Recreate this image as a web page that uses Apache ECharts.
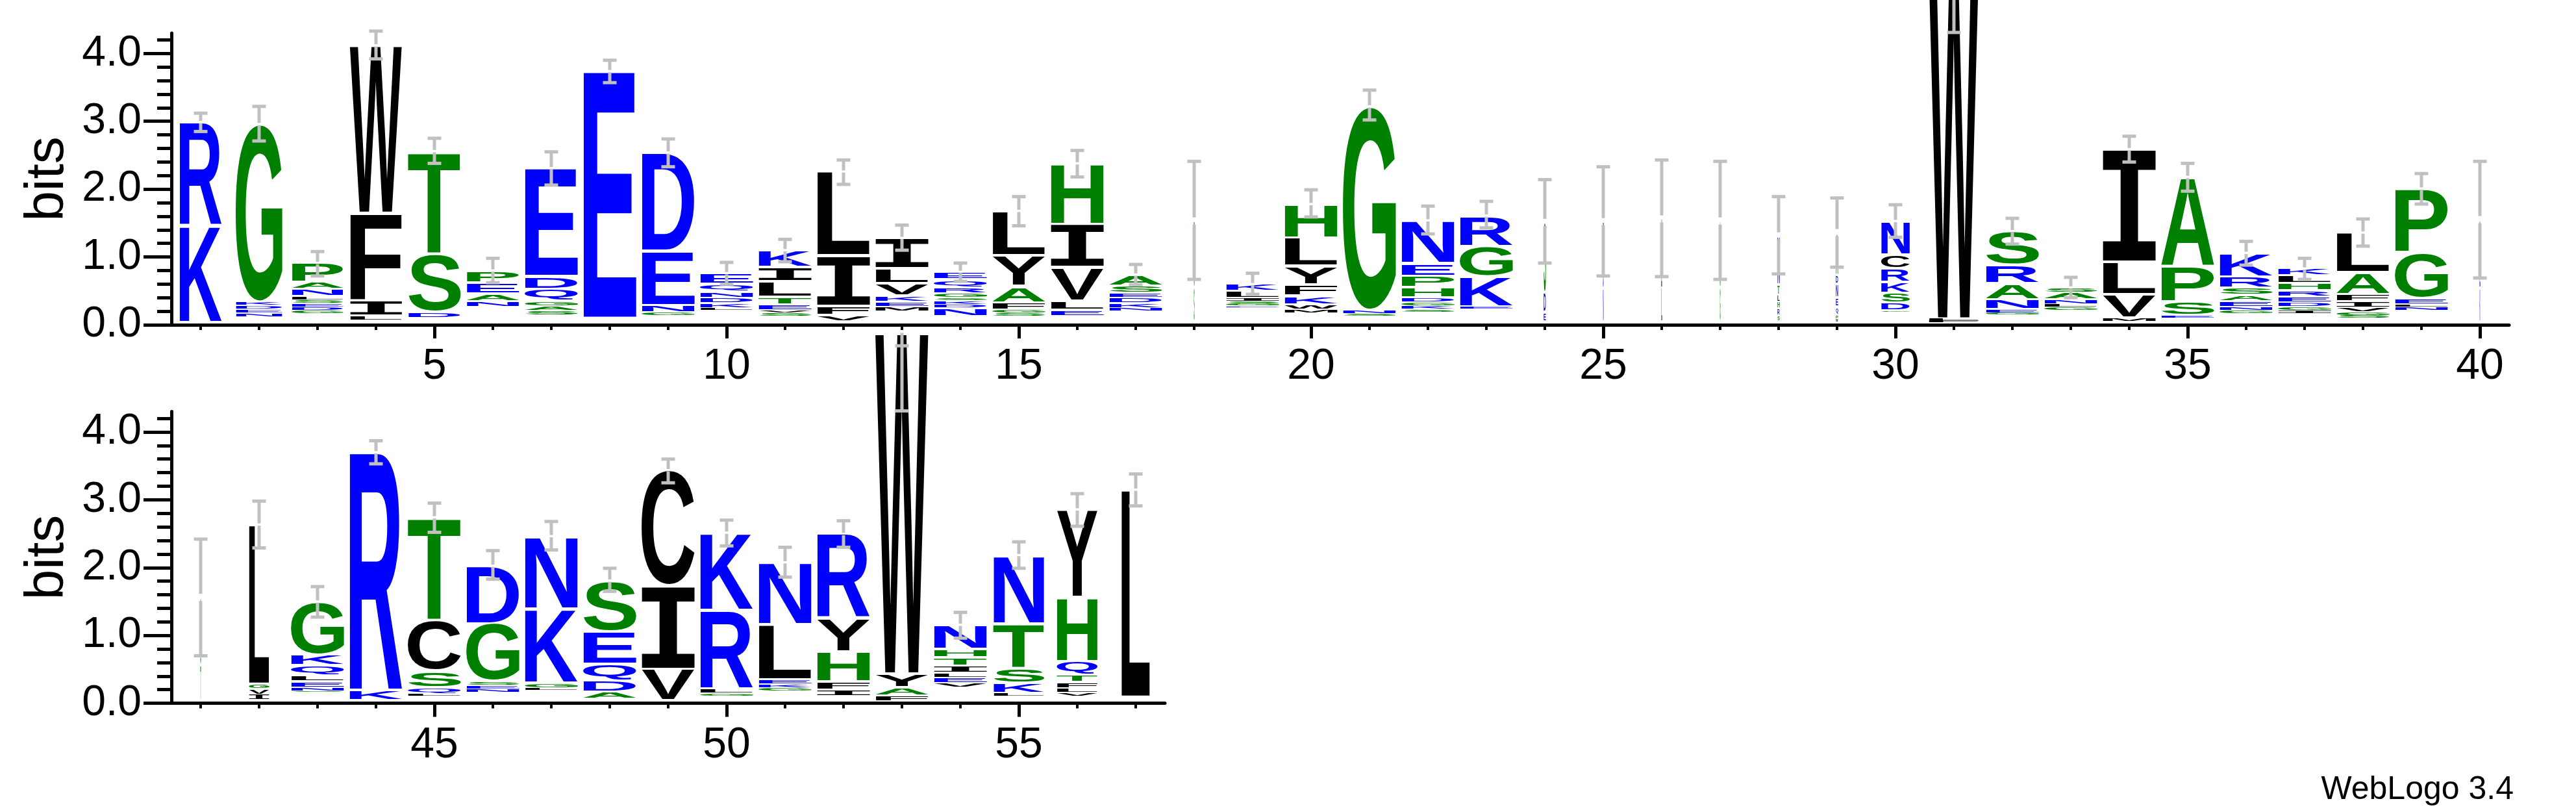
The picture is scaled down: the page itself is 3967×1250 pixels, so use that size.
<!DOCTYPE html>
<html>
<head>
<meta charset="utf-8">
<title>WebLogo</title>
<script src="https://cdn.jsdelivr.net/npm/echarts@6/dist/echarts.min.js"></script>
<style>
  html, body { margin: 0; padding: 0; background: #fff; }
  #logo { width: 3967px; height: 1250px; }
</style>
</head>
<body>
<div id="logo"></div>
<script>
// sequence positions, two rows: 1-40 and 41-57
const positions = [1, 2, 3, 4, 5, 6, 7, 8, 9, 10, 11, 12, 13, 14, 15, 16, 17, 18, 19, 20,
  21, 22, 23, 24, 25, 26, 27, 28, 29, 30, 31, 32, 33, 34, 35, 36, 37, 38, 39, 40,
  41, 42, 43, 44, 45, 46, 47, 48, 49, 50, 51, 52, 53, 54, 55, 56, 57];

// letters of each stack, bottom to top
const stackLetters = ['KR', 'NEDKG', 'GDESLNAP', 'LIFW', 'DST', 'NAEP', 'SAGQDE', 'E', 'GNED', 'LKDNQE',
  'SVETLIK', 'VFIL', 'MEKVLI', 'NDKSGRQE', 'SGFAYL', 'ELVIH', 'NKDESA', 'SGT', 'EGSILK', 'MWKFYLH',
  'SNG', 'SKGDHPEN', 'EKGR', 'EDS', 'NDE', 'LIV', 'GSA', 'SRHLTN', 'WPQENDA', 'GDSKRCN',
  'FLW', 'GENARS', 'GLNAS', 'MVLI', 'ESPA', 'GNEASRK', 'IGDERHLK', 'SGVIFAL', 'NLEGP', 'KEN',
  'TSG', 'IVGL', 'SNELQKG', 'KR', 'LQSCT', 'NESGD', 'LGKN', 'ADQES', 'VIC', 'GLRK',
  'GKELN', 'IFHYR', 'FAYW', 'VELITHN', 'LKSTN', 'VLFTQHY', 'L'];

// information (bits) of each letter, bottom to top
const stackBits = [
  [1.43, 1.52],
  [0.055, 0.055, 0.055, 0.055, 2.62],
  [0.052, 0.052, 0.052, 0.052, 0.052, 0.11, 0.10, 0.28],
  [0.06, 0.22, 1.30, 2.47],
  [0.09, 0.86, 1.51],
  [0.09, 0.11, 0.16, 0.18],
  [0.07, 0.07, 0.07, 0.18, 0.19, 1.59],
  [3.64],
  [0.06, 0.10, 0.80, 1.45],
  [0.03, 0.07, 0.08, 0.09, 0.11, 0.16],
  [0.05, 0.04, 0.08, 0.11, 0.23, 0.215, 0.245],
  [0.09, 0.14, 0.74, 1.24],
  [0.065, 0.075, 0.09, 0.18, 0.22, 0.45],
  [0.12, 0.05, 0.06, 0.04, 0.065, 0.085, 0.12, 0.11],
  [0.045, 0.045, 0.11, 0.24, 0.455, 0.654],
  [0.086, 0.14, 0.494, 0.637, 0.893],
  [0.05, 0.07, 0.08, 0.07, 0.105, 0.165],
  [0.5, 0.5, 0.48],
  [0.02, 0.03, 0.04, 0.05, 0.10, 0.10],
  [0.06, 0.07, 0.13, 0.164, 0.273, 0.413, 0.50],
  [0.04, 0.046, 3.004],
  [0.037, 0.057, 0.049, 0.072, 0.145, 0.17, 0.188, 0.632],
  [0.03, 0.446, 0.451, 0.448],
  [0.14, 0.28, 1.04],
  [0.5, 0.5, 0.47],
  [0.5, 0.5, 0.51],
  [0.5, 0.5, 0.48],
  [0.09, 0.1, 0.1, 0.1, 0.15, 0.72],
  [0.05, 0.06, 0.12, 0.13, 0.2, 0.14, 0.62],
  [0.025, 0.115, 0.145, 0.16, 0.2, 0.207, 0.493],
  [0.03, 0.03, 5.24],
  [0.03, 0.049, 0.148, 0.235, 0.27, 0.5],
  [0.049, 0.042, 0.068, 0.098, 0.077],
  [0.056, 0.344, 0.477, 1.663],
  [0.04, 0.2, 0.523, 1.317],
  [0.045, 0.057, 0.085, 0.09, 0.105, 0.166, 0.349],
  [0.046, 0.049, 0.068, 0.083, 0.094, 0.107, 0.117, 0.096],
  [0.045, 0.05, 0.07, 0.084, 0.106, 0.326, 0.584],
  [0.049, 0.038, 0.087, 0.67, 0.95],
  [0.5, 0.5, 0.5],
  [0.52, 0.5, 0.5],
  [0.08, 0.084, 0.073, 2.348],
  [0.013, 0.06, 0.09, 0.09, 0.141, 0.159, 0.784],
  [0.154, 3.503],
  [0.034, 0.095, 0.244, 0.745, 1.517],
  [0.05, 0.053, 0.06, 0.852, 0.849],
  [0.03, 0.077, 1.092, 1.072],
  [0.107, 0.167, 0.24, 0.48, 0.75],
  [0.463, 1.225, 1.705],
  [0.043, 0.069, 1.152, 1.144],
  [0.047, 0.06, 0.064, 0.81, 0.917],
  [0.086, 0.128, 0.446, 0.493, 1.234],
  [0.082, 0.124, 0.197, 5.023],
  [0.069, 0.077, 0.073, 0.107, 0.116, 0.124, 0.36],
  [0.043, 0.154, 0.21, 0.664, 1.007],
  [0.05, 0.066, 0.094, 0.099, 0.205, 0.947, 1.29],
  [3.055]
];

// bits of the letters too small to print, under each stack
const hiddenBits = [0.04, 0.12, 0.16, 0.07, 0.10, 0.26, 0.14, 0.10, 0.13, 0.22,
  0.13, 0.05, 0.20, 0.13, 0.13, 0.13, 0.20, 0.05, 0.26, 0.17,
  0.13, 0.19, 0.235, 0.05, 0.05, 0.05, 0.05, 0.05, 0.04, 0.185,
  0.03, 0.148, 0.216, 0.05, 0.10, 0.163, 0.17, 0.095, 0.216, 0.05,
  0.04, 0.05, 0.163, 0.043, 0.107, 0.163, 0.193, 0.064, 0.043, 0.107,
  0.18, 0.107, 0.034, 0.231, 0.107, 0.107, 0.094];

// fraction of sequences without a gap (stack width)
const stackWidths = [0.80, 0.88, 0.97, 0.98, 0.99, 0.99, 1, 1, 1, 1,
  1, 1, 1, 1, 1, 1, 1, 0.012, 1, 1,
  1, 1, 1, 0.04, 0.012, 0.012, 0.012, 0.04, 0.04, 0.54,
  0.95, 1, 1, 1, 1, 1, 1, 1, 1, 0.012,
  0.012, 0.38, 1, 1, 1, 1, 1, 1, 1, 1,
  1, 1, 1, 1, 0.96, 0.77, 0.54];

// error bar ends (bits)
const errLow = [2.85, 2.71, 0.72, 3.92, 2.38, 0.62, 2.06, 3.57, 2.33, 0.60,
  0.93, 2.07, 1.10, 0.64, 1.46, 2.18, 0.59, 0.67, 0.45, 1.59,
  3.02, 1.34, 1.43, 0.91, 0.72, 0.71, 0.67, 0.75, 0.85, 1.29,
  4.31, 1.19, 0.40, 2.40, 1.97, 0.88, 0.67, 1.16, 1.78, 0.69,
  0.70, 2.29, 1.27, 3.53, 2.52, 1.83, 2.26, 1.65, 3.25, 2.32,
  1.86, 2.30, 4.31, 0.96, 1.99, 2.61, 2.91];
const errHigh = [3.12, 3.22, 1.08, 4.33, 2.75, 0.98, 2.55, 3.90, 2.74, 0.92,
  1.26, 2.43, 1.47, 0.91, 1.89, 2.57, 0.89, 2.41, 0.76, 1.99,
  3.46, 1.75, 1.82, 2.14, 2.33, 2.43, 2.41, 1.89, 1.87, 1.77,
  5.27, 1.57, 0.70, 2.78, 2.38, 1.23, 0.98, 1.56, 2.23, 2.41,
  2.42, 2.98, 1.72, 3.87, 2.95, 2.25, 2.68, 1.99, 3.60, 2.70,
  2.30, 2.69, 5.27, 1.34, 2.38, 3.09, 3.38];

const bitTicks = [0, 1, 2, 3, 4];
const minorBitTicks = [0.2, 0.4, 0.6, 0.8, 1.2, 1.4, 1.6, 1.8, 2.2, 2.4, 2.6, 2.8, 3.2, 3.4, 3.6, 3.8, 4.2];
const topTickLabels = [5, 10, 15, 20, 25, 30, 35, 40];
const bottomTickLabels = [45, 50, 55];

const BLUE = '#0000ff', GREEN = '#008000', BLACK = '#000000', ERR = '#c0c0c0';
function letterColor(ch) {
  if ('RKDENQ'.includes(ch)) return BLUE;
  if ('SGHTAP'.includes(ch)) return GREEN;
  return BLACK;
}

// measure glyph ink so a letter can be stretched to fill its box
const FONT = 'bold 100px "Liberation Sans"';
const FONT_I = 'bold 100px "DejaVu Sans Mono"';
const measureCtx = document.createElement('canvas').getContext('2d');
const inkCache = {};
function inkBox(ch) {
  if (inkCache[ch]) return inkCache[ch];
  const font = ch === 'I' ? FONT_I : FONT;
  measureCtx.font = font;
  measureCtx.textAlign = 'left';
  measureCtx.textBaseline = 'middle';
  const m = measureCtx.measureText(ch);
  inkCache[ch] = {
    font: font,
    left: -m.actualBoundingBoxLeft,
    top: -m.actualBoundingBoxAscent,
    w: m.actualBoundingBoxLeft + m.actualBoundingBoxRight,
    h: m.actualBoundingBoxAscent + m.actualBoundingBoxDescent
  };
  return inkCache[ch];
}

const FULL = 0.911; // full stack width, in position units

function buildMarks(from, to) {
  const marks = [], bars = [];
  positions.forEach(function (pos, i) {
    if (pos < from || pos > to) return;
    let y = hiddenBits[i];
    const w = stackWidths[i] * FULL;
    for (let k = 0; k < stackLetters[i].length; k++) {
      const h = stackBits[i][k];
      marks.push({ value: [pos, y, y + h, w], ch: stackLetters[i][k] });
      y += h;
    }
    bars.push([pos, errLow[i], errHigh[i], y, stackWidths[i]]);
  });
  return { marks: marks, bars: bars };
}

function letterRenderer(marks) {
  return function (params, api) {
    const m = marks[params.dataIndex];
    const tl = api.coord([api.value(0) - api.value(3) / 2, api.value(2)]);
    const br = api.coord([api.value(0) + api.value(3) / 2, api.value(1)]);
    const inset = Math.min(2, (br[1] - tl[1]) * 0.15);
    const top = tl[1] + inset, bottom = br[1] - inset;
    const ink = inkBox(m.ch);
    const sx = (br[0] - tl[0]) / ink.w, sy = (bottom - top) / ink.h;
    return {
      type: 'text',
      x: tl[0] - sx * ink.left,
      y: top - sy * ink.top,
      scaleX: sx,
      scaleY: sy,
      silent: true,
      style: {
        text: m.ch, font: ink.font, fill: letterColor(m.ch),
        align: 'left', verticalAlign: 'middle',
        textAlign: 'left', textVerticalAlign: 'middle'
      }
    };
  };
}

function errorRenderer(params, api) {
  const pos = api.value(0);
  const lo = api.coord([pos, api.value(1)]);
  const hi = api.coord([pos, api.value(2)]);
  const top = api.coord([pos, api.value(3)]);
  const gap = api.value(4) < 0.1 ? 5.5 : 1.75;
  const x = lo[0], cap = 10.5;
  const st = { stroke: ERR, lineWidth: 5 };
  const children = [
    { type: 'line', shape: { x1: x - cap, y1: hi[1], x2: x + cap, y2: hi[1] }, style: st },
    { type: 'line', shape: { x1: x - cap, y1: lo[1], x2: x + cap, y2: lo[1] }, style: st }
  ];
  if (top[1] < hi[1]) {
    children.push({ type: 'line', shape: { x1: x, y1: top[1], x2: x, y2: lo[1] }, style: st });
  } else {
    children.push({ type: 'line', shape: { x1: x, y1: hi[1], x2: x, y2: top[1] - gap }, style: st });
    children.push({ type: 'line', shape: { x1: x, y1: top[1] + gap, x2: x, y2: lo[1] }, style: st });
  }
  return { type: 'group', silent: true, children: children };
}

const axisFont = { fontFamily: 'Liberation Sans', fontSize: 66, color: '#000' };

function xAxes(gridIndex, min, max, minorValues, majorValues) {
  return [
    {
      type: 'value', gridIndex: gridIndex, min: min, max: max, position: 'bottom',
      axisLine: { show: true, onZero: false, lineStyle: { color: '#000', width: 5 } },
      axisTick: { show: true, length: 8, customValues: minorValues, lineStyle: { color: '#000', width: 4 } },
      axisLabel: { show: false },
      splitLine: { show: false }
    },
    {
      type: 'value', gridIndex: gridIndex, min: min, max: max, position: 'bottom',
      axisLine: { show: false, onZero: false },
      axisTick: { show: true, length: 21, customValues: majorValues, lineStyle: { color: '#000', width: 5 } },
      axisLabel: Object.assign({ show: true, margin: 32, customValues: majorValues }, axisFont),
      splitLine: { show: false }
    }
  ];
}

function yAxes(gridIndex) {
  return [
    {
      type: 'value', gridIndex: gridIndex, min: 0, max: 4.3, position: 'left',
      name: 'bits', nameLocation: 'middle', nameGap: 148, nameRotate: 90,
      nameTextStyle: { fontFamily: 'Liberation Sans', fontSize: 84, color: '#000' },
      axisLine: { show: true, onZero: false, lineStyle: { color: '#000', width: 5 } },
      axisTick: { show: true, length: 43, customValues: bitTicks, lineStyle: { color: '#000', width: 5 } },
      axisLabel: Object.assign({
        show: true, margin: 46, customValues: bitTicks,
        formatter: function (v) { return Number(v).toFixed(1); }
      }, axisFont),
      splitLine: { show: false }
    },
    {
      type: 'value', gridIndex: gridIndex, min: 0, max: 4.3, position: 'left',
      axisLine: { show: false, onZero: false },
      axisTick: { show: true, length: 22, customValues: minorBitTicks, lineStyle: { color: '#000', width: 5 } },
      axisLabel: { show: false },
      splitLine: { show: false }
    }
  ];
}

const topRow = buildMarks(1, 40);
const bottomRow = buildMarks(41, 57);

const chart = echarts.init(document.getElementById('logo'), null, { renderer: 'canvas' });
chart.setOption({
  animation: false,
  backgroundColor: '#fff',
  textStyle: { fontFamily: 'Liberation Sans' },
  grid: [
    { left: 264, top: 51, width: 3600, height: 449, outerBoundsMode: 'none' },
    { left: 264, top: 633.6, width: 1530, height: 449, outerBoundsMode: 'none' }
  ],
  xAxis: xAxes(0, 0.5, 40.5, positions.slice(0, 40), topTickLabels)
    .concat(xAxes(1, 40.5, 57.5, positions.slice(40), bottomTickLabels)),
  yAxis: yAxes(0).concat(yAxes(1)),
  graphic: [{
    type: 'text', right: 96, bottom: 9, silent: true,
    style: { text: 'WebLogo 3.4', font: '50px "Liberation Sans"', fill: '#000' }
  }],
  series: [
    {
      type: 'custom', xAxisIndex: 0, yAxisIndex: 0, clip: false,
      renderItem: letterRenderer(topRow.marks), data: topRow.marks
    },
    {
      type: 'custom', xAxisIndex: 0, yAxisIndex: 0, clip: false,
      renderItem: errorRenderer, data: topRow.bars
    },
    {
      type: 'custom', xAxisIndex: 2, yAxisIndex: 2, clip: false,
      renderItem: letterRenderer(bottomRow.marks), data: bottomRow.marks
    },
    {
      type: 'custom', xAxisIndex: 2, yAxisIndex: 2, clip: false,
      renderItem: errorRenderer, data: bottomRow.bars
    }
  ]
});
</script>
</body>
</html>
